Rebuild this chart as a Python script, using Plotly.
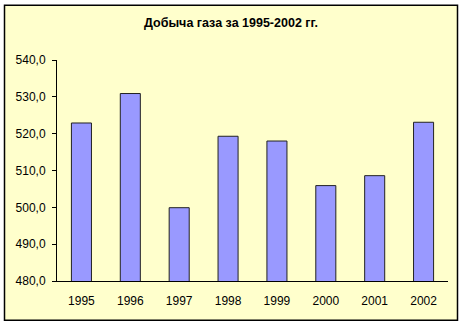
import plotly.graph_objects as go

years = ["1995", "1996", "1997", "1998", "1999", "2000", "2001", "2002"]
production = [522.9, 530.9, 499.9, 519.3, 518.0, 505.9, 508.6, 523.1]
title_text = "Добыча газа за 1995-2002 гг."

W, H = 465, 328
L, R, T, B = 57, 17, 59.5, 46.5
pw, ph = W - L - R, H - T - B

def px2x(px):
    return (px - L) / pw

def py2y(py):
    return (H - B - py) / ph

fig = go.Figure(go.Bar(
    x=years, y=production,
    marker=dict(color="#9999FF", line=dict(color="#222222", width=1)),
))

fig.update_layout(
    width=W, height=H,
    margin=dict(l=L, r=R, t=T, b=B),
    paper_bgcolor="white",
    plot_bgcolor="rgba(0,0,0,0)",
    separators=", ",
    bargap=0.59,
    showlegend=False,
    font=dict(family="Liberation Sans, Arial", size=12, color="black"),
    title=dict(text="<b>" + title_text + "</b>", x=231 / W, xref="container",
               xanchor="center", y=1 - 23 / H, yanchor="middle",
               font=dict(size=12.5)),
    shapes=[dict(type="rect", xref="paper", yref="paper", layer="below",
                 x0=px2x(4.5), x1=px2x(457.5), y0=py2y(321), y1=py2y(4.5),
                 fillcolor="#FFFFCC", line=dict(color="black", width=1.5))],
)
fig.update_xaxes(showline=True, linecolor="black", linewidth=1, ticks="",
                 showgrid=False, tickfont=dict(size=12), ticklabelstandoff=9)
fig.update_yaxes(range=[480, 540], dtick=10, tickformat=".1f",
                 showline=True, linecolor="black", linewidth=1,
                 ticks="outside", ticklen=4, tickcolor="black",
                 showgrid=False, zeroline=False, tickfont=dict(size=12),
                 ticklabelstandoff=4)

fig.write_html("out.html")
